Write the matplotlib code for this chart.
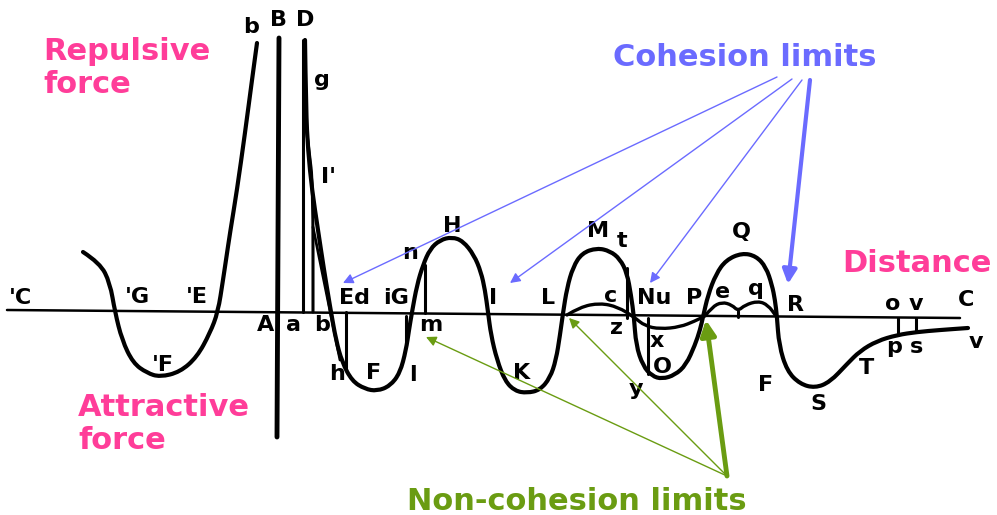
import matplotlib
matplotlib.use("Agg")
import matplotlib.pyplot as plt
from matplotlib.path import Path
from matplotlib.patches import PathPatch

# ---- data (pixel coordinates, y downward) ----
axis_x = [7, 960]
axis_y = [310, 318]

left_curve_x = [83, 100, 110, 115, 122, 133, 147, 160, 180, 197, 210, 218, 223, 226, 230, 237, 245, 252, 257]
left_curve_y = [252, 263, 283, 312, 340, 363, 373, 377, 372, 357, 333, 312, 280, 260, 233, 190, 133, 80, 43]

main_curve_x = [305, 306, 308, 312, 318, 324, 329, 331, 336, 342, 352, 365, 377, 390, 400, 406, 409, 412,
                417, 423, 430, 440, 452, 463, 474, 481, 485, 488, 491, 497, 505, 515, 527, 540, 550, 556,
                560, 563, 567, 573, 582, 597, 610, 620, 627, 631, 634, 636, 643, 652, 662, 675, 686, 695,
                700, 703, 708, 716, 726, 742, 756, 766, 772, 775, 777, 779, 787, 800, 815, 830, 847, 860,
                877, 897, 917, 940, 968]
main_curve_y = [40, 110, 150, 190, 230, 270, 300, 312, 340, 362, 381, 389, 391, 386, 373, 350, 330, 312,
                285, 265, 249, 240, 237, 241, 255, 272, 290, 312, 335, 360, 381, 391, 393, 390, 378, 360,
                335, 313, 288, 267, 253, 248, 251, 259, 273, 295, 317, 345, 366, 376, 379, 375, 365, 345,
                330, 317, 295, 274, 260, 253, 256, 267, 285, 300, 317, 345, 371, 384, 388, 382, 364, 351,
                341, 335, 332, 330, 328]

cz_curve_x = [567, 580, 600, 618, 634, 645, 660, 680, 695, 703]
cz_curve_y = [315, 307, 303, 307, 317, 326, 329, 327, 321, 317]

eq_curve_x = [705, 712, 722, 732, 738, 745, 758, 768, 776]
eq_curve_y = [316, 307, 302, 305, 311, 305, 301, 305, 316]

branch_b_x = [304, 309, 313, 313]
branch_b_y = [110, 150, 185, 312]
branch_h_x = [313, 340]
branch_h_y = [227, 360]

# vertical segments: (x, y_top, y_bottom)
seg_x = [303, 346, 406, 425, 627, 648, 738, 898, 916]
seg_top = [40, 312, 316, 265, 268, 318, 311, 318, 318]
seg_bot = [312, 368, 345, 313, 318, 374, 317, 335, 332]

B_line_x = [279, 277]
B_line_y = [38, 437]

letters = ["b", "B", "D", "g", "I'", "n", "H", "M", "t", "Q",
           "'C", "'G", "'E", "'F", "A", "a", "b", "Ed", "iG", "m", "h", "F", "l",
           "I", "K", "L", "c", "Nu", "z", "x", "O", "y", "P", "e", "q", "R",
           "F", "S", "T", "o", "v", "C", "p", "s", "v"]
letter_x = [251, 278, 305, 322, 328, 410, 452, 598, 622, 741,
            20, 137, 197, 163, 266, 293, 322, 354, 396, 431, 337, 374, 413,
            493, 522, 548, 611, 654, 616, 657, 662, 636, 694, 723, 756, 795,
            766, 818, 866, 893, 916, 966, 894, 916, 976]
letter_y = [27, 20, 20, 80, 177, 253, 226, 231, 241, 232,
            298, 297, 297, 365, 325, 325, 325, 298, 298, 325, 374, 373, 375,
            298, 373, 298, 296, 298, 328, 341, 367, 389, 298, 292, 289, 305,
            385, 404, 368, 304, 304, 300, 347, 347, 342]

cohesion_src = [(777, 77), (792, 79), (802, 80), (810, 80)]
cohesion_tip = [(343, 283), (510, 283), (650, 283), (788, 284)]
cohesion_lw = [1.0, 1.0, 1.0, 3.0]

noncoh_src = [(727, 476), (727, 476), (727, 476)]
noncoh_tip = [(426, 337), (569, 318), (706, 320)]
noncoh_lw = [1.0, 1.0, 3.5]


def smooth_curve(ax, xs, ys, lw):
    """Quadratic-Bezier path using read points as control points."""
    pts = list(zip(xs, ys))
    verts = [pts[0]]
    codes = [Path.MOVETO]
    for i in range(1, len(pts) - 1):
        mid = ((pts[i][0] + pts[i + 1][0]) / 2, (pts[i][1] + pts[i + 1][1]) / 2)
        verts += [pts[i], mid]
        codes += [Path.CURVE3, Path.CURVE3]
    verts.append(pts[-1])
    codes.append(Path.LINETO)
    ax.add_patch(PathPatch(Path(verts, codes), fill=False, edgecolor="black", lw=lw,
                           capstyle="round", joinstyle="round"))


# ---- drawing ----
fig = plt.figure(figsize=(9.97, 5.15), dpi=100)
ax = fig.add_axes([0, 0, 1, 1])
ax.set_xlim(0, 997)
ax.set_ylim(515, 0)
ax.axis("off")

ink = "black"
kw = dict(color=ink, solid_capstyle="round", solid_joinstyle="round")
ax.plot(axis_x, axis_y, lw=1.8, **kw)
smooth_curve(ax, left_curve_x, left_curve_y, 3.0)
smooth_curve(ax, main_curve_x, main_curve_y, 3.0)
smooth_curve(ax, cz_curve_x, cz_curve_y, 2.4)
smooth_curve(ax, eq_curve_x, eq_curve_y, 2.4)
smooth_curve(ax, branch_b_x, branch_b_y, 2.2)
ax.plot(branch_h_x, branch_h_y, lw=2.0, **kw)
ax.plot(B_line_x, B_line_y, lw=3.5, **kw)
for x, t, b in zip(seg_x, seg_top, seg_bot):
    ax.plot([x, x], [t, b], lw=2.2, **kw)

for s, x, y in zip(letters, letter_x, letter_y):
    ax.text(x, y, s, ha="center", va="center", fontsize=16, fontweight="bold",
            family="DejaVu Sans", color=ink)

big = dict(fontsize=22, fontweight="bold", family="DejaVu Sans")
pink = "#ff3d99"
ax.text(43, 68, "Repulsive\nforce", ha="left", va="center", color=pink, linespacing=1.15, **big)
ax.text(78, 424, "Attractive\nforce", ha="left", va="center", color=pink, linespacing=1.15, **big)
ax.text(842, 264, "Distance", ha="left", va="center", color=pink, **big)

blue = "#6b6bff"
ax.text(613, 57, "Cohesion limits", ha="left", va="center", color=blue, **big)
for (sx, sy), (tx, ty), lw in zip(cohesion_src, cohesion_tip, cohesion_lw):
    ax.annotate("", xy=(tx, ty), xytext=(sx, sy),
                arrowprops=dict(arrowstyle="-|>", color=blue, lw=lw,
                                mutation_scale=12 + 3 * lw, shrinkA=0, shrinkB=0))

green = "#6a9c12"
ax.text(407, 502, "Non-cohesion limits", ha="left", va="center", color=green, **big)
for (sx, sy), (tx, ty), lw in zip(noncoh_src, noncoh_tip, noncoh_lw):
    ax.annotate("", xy=(tx, ty), xytext=(sx, sy),
                arrowprops=dict(arrowstyle="-|>", color=green, lw=lw,
                                mutation_scale=12 + 3 * lw, shrinkA=0, shrinkB=0))

fig.savefig("out.png", dpi=100)
